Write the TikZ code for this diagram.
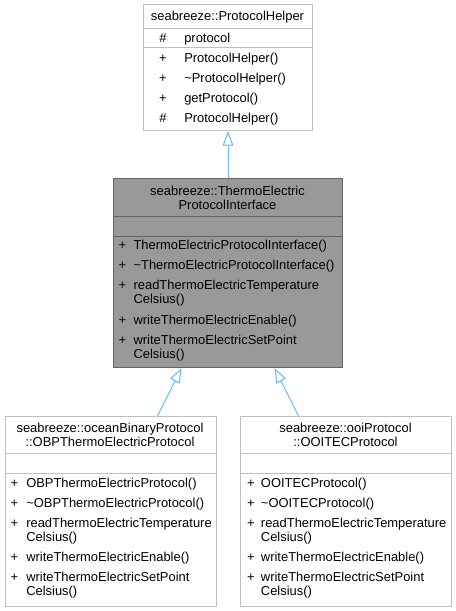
\documentclass[tikz,border=0pt]{standalone}
\usepackage{fontspec}
\setmainfont{Liberation Sans}
\usepackage{tikz}
\usetikzlibrary{arrows.meta,calc}
\definecolor{linkblue}{RGB}{99,184,255}
\definecolor{focusfill}{RGB}{153,153,153}
\definecolor{focusline}{RGB}{102,102,102}
\definecolor{boxline}{RGB}{191,191,191}

\begin{document}
\begin{tikzpicture}[x=0.75pt, y=-0.75pt, font=\fontsize{9.7}{11.6}\selectfont,
    cls/.style={draw=boxline, line width=0.75pt, fill=white, anchor=north west, inner sep=0pt},
    focus/.style={cls, draw=focusline, fill=focusfill},
    sep/.style={draw=boxline, line width=0.75pt},
    ttl/.style={anchor=base, inner sep=0pt},
    sgn/.style={anchor=base, inner sep=0pt},
    mem/.style={anchor=base west, inner sep=0pt},
    inherit/.style={draw=linkblue, line width=0.75pt, -{Triangle[open, length=11pt, width=8pt, fill=white]}}]
        \useasboundingbox (0,0) rectangle (456,611);
        % base class
        \node[cls, minimum width=126.75pt, minimum height=94.5pt] (helper) at (143,4) {};
        \draw[sep] (143,28.5) -- (312,28.5);
        \draw[sep] (143,47.5) -- (312,47.5);
        \node[ttl] (helperT) at (227.5,20) {seabreeze::ProtocolHelper};
        \node[sgn] (hS1) at (163,42) {\#};  \node[mem] (hM1) at (184,42) {protocol};
        \node[sgn] (hS2) at (163,62) {+};   \node[mem] (hM2) at (184,62) {ProtocolHelper()};
        \node[sgn] (hS3) at (163,82) {+};   \node[mem] (hM3) at (184,82) {\char`\~ProtocolHelper()};
        \node[sgn] (hS4) at (163,102) {+};  \node[mem] (hM4) at (184,102) {getProtocol()};
        \node[sgn] (hS5) at (163,122) {\#}; \node[mem] (hM5) at (184,122) {ProtocolHelper()};

        % interface
        \node[focus, minimum width=171.75pt, minimum height=141.75pt] (iface) at (113,178) {};
        \draw[sep, focusline] (113,216) -- (342,216);
        \draw[sep, focusline] (113,236) -- (342,236);
        \node[ttl] (ifaceT1) at (227.5,195.5) {seabreeze::ThermoElectric};
        \node[ttl] (ifaceT2) at (227.5,209.5) {ProtocolInterface};
        \node[sgn] (iS1) at (122.5,249.5) {+}; \node[mem] (iM1) at (133.3,249.5) {ThermoElectricProtocolInterface()};
        \node[sgn] (iS2) at (122.5,269.5) {+}; \node[mem] (iM2) at (133.3,269.5) {\char`\~ThermoElectricProtocolInterface()};
        \node[sgn] (iS3) at (122.5,289.5) {+}; \node[mem] (iM3) at (133.3,289.5) {readThermoElectricTemperature};
        \node[mem] (iM3b) at (133.3,303.5) {Celsius()};
        \node[sgn] (iS4) at (122.5,324) {+};   \node[mem] (iM4) at (133.3,324) {writeThermoElectricEnable()};
        \node[sgn] (iS5) at (122.5,344) {+};   \node[mem] (iM5) at (133.3,344) {writeThermoElectricSetPoint};
        \node[mem] (iM5b) at (133.3,358) {Celsius()};

        % OBP implementation
        \node[cls, minimum width=158.25pt, minimum height=142.5pt] (obp) at (5,416) {};
        \draw[sep] (5,453) -- (216,453);
        \draw[sep] (5,473) -- (216,473);
        \node[ttl] (obpT1) at (110,432.5) {seabreeze::oceanBinaryProtocol};
        \node[ttl] (obpT2) at (110,446.5) {::OBPThermoElectricProtocol};
        \node[sgn] (oS1) at (14.3,487.5) {+}; \node[mem] (oM1) at (26,487.5) {OBPThermoElectricProtocol()};
        \node[sgn] (oS2) at (14.3,507.5) {+}; \node[mem] (oM2) at (26,507.5) {\char`\~OBPThermoElectricProtocol()};
        \node[sgn] (oS3) at (14.3,527.5) {+}; \node[mem] (oM3) at (26,527.5) {readThermoElectricTemperature};
        \node[mem] (oM3b) at (26,541.5) {Celsius()};
        \node[sgn] (oS4) at (14.3,561.5) {+}; \node[mem] (oM4) at (26,561.5) {writeThermoElectricEnable()};
        \node[sgn] (oS5) at (14.3,581.5) {+}; \node[mem] (oM5) at (26,581.5) {writeThermoElectricSetPoint};
        \node[mem] (oM5b) at (26,595.5) {Celsius()};

        % OOI implementation
        \node[cls, minimum width=158.25pt, minimum height=142.5pt] (ooi) at (240,416) {};
        \draw[sep] (240,453) -- (451,453);
        \draw[sep] (240,473) -- (451,473);
        \node[ttl] (ooiT1) at (345.5,432.5) {seabreeze::ooiProtocol};
        \node[ttl] (ooiT2) at (345.5,446.5) {::OOITECProtocol};
        \node[sgn] (tS1) at (251,487.5) {+}; \node[mem] (tM1) at (260.7,487.5) {OOITECProtocol()};
        \node[sgn] (tS2) at (251,507.5) {+}; \node[mem] (tM2) at (260.7,507.5) {\char`\~OOITECProtocol()};
        \node[sgn] (tS3) at (251,527.5) {+}; \node[mem] (tM3) at (260.7,527.5) {readThermoElectricTemperature};
        \node[mem] (tM3b) at (260.7,541.5) {Celsius()};
        \node[sgn] (tS4) at (251,561.5) {+}; \node[mem] (tM4) at (260.7,561.5) {writeThermoElectricEnable()};
        \node[sgn] (tS5) at (251,581.5) {+}; \node[mem] (tM5) at (260.7,581.5) {writeThermoElectricSetPoint};
        \node[mem] (tM5b) at (260.7,595.5) {Celsius()};

        % inheritance
        \draw[inherit] (iface.north) -- (helper.south);
        \draw[inherit] ($(obp.north)+(46.5,0)$) -- ($(iface.south)+(-46.5,0)$);
        \draw[inherit] ($(ooi.north)+(-47.5,0)$) -- ($(iface.south)+(46.5,0)$);
\end{tikzpicture}
\end{document}
